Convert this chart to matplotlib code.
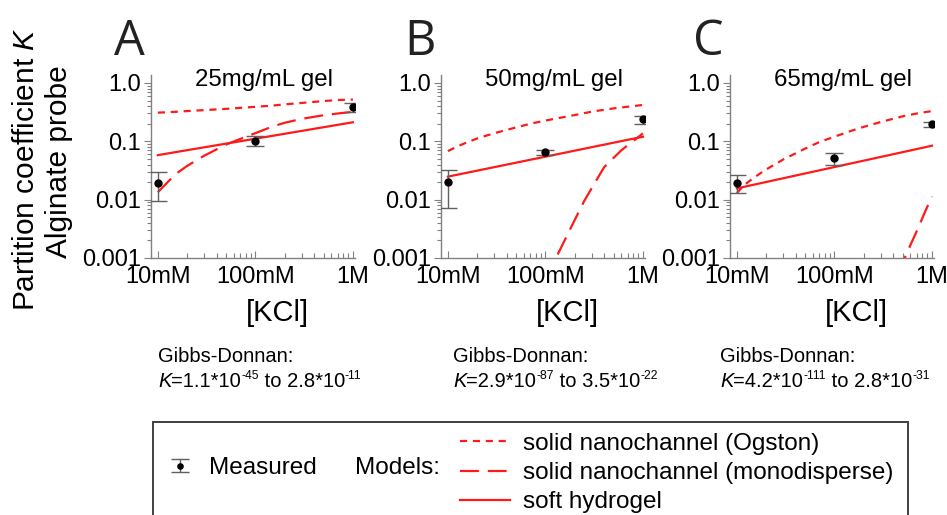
import numpy as np
import matplotlib
matplotlib.use('Agg')
import matplotlib.pyplot as plt
from matplotlib.ticker import FixedLocator, FixedFormatter, NullFormatter
from matplotlib.patches import Rectangle
from matplotlib.container import ErrorbarContainer
from matplotlib.legend_handler import HandlerErrorbar

plt.rcParams['font.family'] = ['Liberation Sans', 'DejaVu Sans']
plt.rcParams['mathtext.fontset'] = 'custom'
plt.rcParams['mathtext.rm'] = 'Liberation Sans'
plt.rcParams['mathtext.it'] = 'Liberation Sans:italic'
plt.rcParams['mathtext.default'] = 'regular'

# ---------------- data ----------------
panel_letters = ['A', 'B', 'C']
panel_titles = ['25mg/mL gel', '50mg/mL gel', '65mg/mL gel']
gd_low_mant = ['1.1', '2.9', '4.2']
gd_low_exp = ['-45', '-87', '-111']
gd_high_mant = ['2.8', '3.5', '2.8']
gd_high_exp = ['-11', '-22', '-31']

xtick_vals = [0.01, 0.1, 1.0]
xtick_labels = ['10mM', '100mM', '1M']
ytick_vals = [0.001, 0.01, 0.1, 1.0]
ytick_labels = ['0.001', '0.01', '0.1', '1.0']

conc_meas = [0.01, 0.1, 1.0]
meas_A = [0.0196, 0.1026, 0.39]
meas_A_lo = [0.0093, 0.083, 0.32]
meas_A_hi = [0.0294, 0.123, 0.46]
meas_B = [0.0204, 0.065, 0.238]
meas_B_lo = [0.0071, 0.058, 0.196]
meas_B_hi = [0.032, 0.072, 0.275]
meas_C = [0.0193, 0.051, 0.195]
meas_C_lo = [0.0132, 0.040, 0.176]
meas_C_hi = [0.026, 0.062, 0.218]

# solid nanochannel (Ogston)
ogston_A_conc = [0.01, 0.015, 0.02, 0.03, 0.05, 0.07, 0.1, 0.15, 0.2, 0.3, 0.5, 0.7, 1.0]
ogston_A = [0.31, 0.32, 0.33, 0.343, 0.36, 0.375, 0.39, 0.41, 0.43, 0.455, 0.49, 0.51, 0.52]
ogston_B_conc = [0.01, 0.013, 0.015, 0.02, 0.03, 0.05, 0.07, 0.1, 0.15, 0.2, 0.3, 0.5, 0.7, 1.0]
ogston_B = [0.068, 0.084, 0.093, 0.112, 0.138, 0.173, 0.2, 0.227, 0.258, 0.282, 0.323,
            0.367, 0.392, 0.42]
ogston_C_conc = [0.01, 0.012, 0.015, 0.02, 0.03, 0.05, 0.07, 0.1, 0.15, 0.2, 0.3, 0.5, 0.7, 1.0]
ogston_C = [0.013, 0.018, 0.024, 0.033, 0.049, 0.075, 0.097, 0.12, 0.152, 0.177, 0.215,
            0.268, 0.30, 0.33]

# solid nanochannel (monodisperse)
mono_A_conc = [0.01, 0.015, 0.02, 0.03, 0.05, 0.07, 0.1, 0.15, 0.2, 0.3, 0.5, 0.7, 1.0]
mono_A = [0.0134, 0.027, 0.038, 0.057, 0.088, 0.11, 0.138, 0.18, 0.208, 0.243, 0.28, 0.30, 0.32]
mono_B_conc = [0.1, 0.15, 0.2, 0.25, 0.3, 0.4, 0.5, 0.6, 0.7, 0.85, 1.0]
mono_B = [0.00043, 0.0017, 0.0045, 0.0095, 0.016, 0.036, 0.052, 0.07, 0.086, 0.11, 0.137]
mono_C_conc = [0.45, 0.5, 0.6, 0.7, 0.85, 1.0]
mono_C = [0.00055, 0.00083, 0.00165, 0.0029, 0.0062, 0.0113]

# soft hydrogel
soft_conc = [0.01, 1.0]
soft_A = [0.058, 0.212]
soft_B = [0.0248, 0.12]
soft_C = [0.0156, 0.084]

panels = [
    dict(meas=meas_A, lo=meas_A_lo, hi=meas_A_hi, ogc=ogston_A_conc, og=ogston_A,
         moc=mono_A_conc, mo=mono_A, soft=soft_A),
    dict(meas=meas_B, lo=meas_B_lo, hi=meas_B_hi, ogc=ogston_B_conc, og=ogston_B,
         moc=mono_B_conc, mo=mono_B, soft=soft_B),
    dict(meas=meas_C, lo=meas_C_lo, hi=meas_C_hi, ogc=ogston_C_conc, og=ogston_C,
         moc=mono_C_conc, mo=mono_C, soft=soft_C),
]

# ---------------- layout ----------------
W, H = 947, 515
fig = plt.figure(figsize=(W / 100, H / 100), dpi=100)
renderer = fig.canvas.get_renderer()

ax_lefts = [151, 441, 730]
ax_w, ax_top, ax_bot = 204, 75, 258
red = '#ff1a1a'
grey = '#808080'
ebc = '#606060'


def rich_line(x_px, y_base_px, parts, fs):
    """Draw a sequence of (text, kind) pieces on one baseline; kind in rm/it/sup."""
    x = x_px
    for s, kind in parts:
        size = fs * 0.6 if kind == 'sup' else fs
        dy = fs * 1.39 * 0.42 if kind == 'sup' else 0
        t = fig.text(x / W, 1 - (y_base_px - dy) / H, s, fontsize=size,
                     style='italic' if kind == 'it' else 'normal',
                     ha='left', va='baseline')
        bb = t.get_window_extent(renderer=renderer)
        x += bb.width


handles = None
for i, p in enumerate(panels):
    ax = fig.add_axes([ax_lefts[i] / W, 1 - ax_bot / H, ax_w / W, (ax_bot - ax_top) / H])
    ax.set_xscale('log')
    ax.set_yscale('log')

    meas = np.array(p['meas'])
    yerr = [meas - np.array(p['lo']), np.array(p['hi']) - meas]
    eb = ax.errorbar(conc_meas, meas, yerr=yerr, fmt='o', color='black', ms=5,
                     ecolor=ebc, elinewidth=1.0, capsize=6.5, capthick=1.0, zorder=4)
    l_og, = ax.plot(p['ogc'], p['og'], color=red, lw=1.6, dashes=(3.2, 2.6))
    l_mo, = ax.plot(p['moc'], p['mo'], color=red, lw=1.6, dashes=(8.5, 4.0))
    l_so, = ax.plot(soft_conc, p['soft'], color=red, lw=1.6)
    if i == 0:
        handles = (eb, l_og, l_mo, l_so)

    ax.set_xlim(0.0085, 1.05)
    ax.set_ylim(0.001, 1.37)
    for s in ['top', 'right']:
        ax.spines[s].set_visible(False)
    for s in ['left', 'bottom']:
        ax.spines[s].set_color(grey)
        ax.spines[s].set_linewidth(1.0)

    ax.xaxis.set_major_locator(FixedLocator(xtick_vals))
    ax.xaxis.set_major_formatter(FixedFormatter(xtick_labels))
    xminor = [m * d for d in (0.01, 0.1) for m in range(2, 10)]
    ax.xaxis.set_minor_locator(FixedLocator(xminor))
    ax.xaxis.set_minor_formatter(NullFormatter())
    ax.yaxis.set_major_locator(FixedLocator(ytick_vals))
    ax.yaxis.set_major_formatter(FixedFormatter(ytick_labels))
    yminor = [m * d for d in (0.001, 0.01, 0.1) for m in range(2, 10)]
    ax.yaxis.set_minor_locator(FixedLocator(yminor))
    ax.yaxis.set_minor_formatter(NullFormatter())

    ax.tick_params(axis='x', which='major', direction='in', length=5, width=0.8,
                   color=grey, labelsize=17, pad=6)
    ax.tick_params(axis='x', which='minor', direction='in', length=3.5, width=0.8, color=grey)
    ax.tick_params(axis='y', which='major', direction='out', length=5, width=0.8,
                   color=grey, labelsize=17, pad=2)
    ax.tick_params(axis='y', which='minor', direction='out', length=3, width=0.8, color=grey)

    ax.text(0.555, 0.94, panel_titles[i], transform=ax.transAxes, ha='center',
            va='baseline', fontsize=17.3)
    ax.text(0.62, -0.30, '[KCl]', transform=ax.transAxes, ha='center', va='center',
            fontsize=21)

    # panel letter
    fig.text((ax_lefts[i] - 37) / W, 1 - 55 / H, panel_letters[i], fontsize=35,
             family=['Open Sans', 'DejaVu Sans'], ha='left', va='baseline', color='#222222')

    # Gibbs-Donnan notes
    gx = [158, 453, 720][i]
    fig.text(gx / W, 1 - 357 / H, 'Gibbs-Donnan:', fontsize=14.5, ha='left', va='center')
    rich_line(gx, 387, [('K', 'it'), ('=' + gd_low_mant[i] + '*10', 'rm'),
                        (gd_low_exp[i], 'sup'),
                        (' to ' + gd_high_mant[i] + '*10', 'rm'),
                        (gd_high_exp[i], 'sup')], 14.5)

# y label
fig.text(26 / W, 1 - 169 / H, r'Partition coefficient $\mathit{K}$', rotation=90,
         ha='center', va='center', fontsize=21.5)
fig.text(59 / W, 1 - 162 / H, 'Alginate probe', rotation=90,
         ha='center', va='center', fontsize=21.5)

# legend frame
fig.add_artist(Rectangle((153 / W, -0.1), (908 - 153) / W, 0.1 + 1 - 422 / H,
                         transform=fig.transFigure, fill=False, edgecolor='#404040', lw=1.4))

eb, l_og, l_mo, l_so = handles
fig.legend([eb], ['Measured'], loc='center left', bbox_to_anchor=(170 / W, 1 - 468 / H),
           frameon=False, fontsize=17.5, borderpad=0, borderaxespad=0,
           handlelength=0.85, handletextpad=0.75, markerscale=0.75,
           handler_map={ErrorbarContainer: HandlerErrorbar(xerr_size=0.3, yerr_size=0.27)})
fig.text(355 / W, 1 - 468 / H, 'Models:', fontsize=17.5, ha='left', va='center')
fig.legend([l_og, l_mo, l_so],
           ['solid nanochannel (Ogston)', 'solid nanochannel (monodisperse)', 'soft hydrogel'],
           loc='center left', bbox_to_anchor=(460 / W, 1 - 473 / H), frameon=False,
           fontsize=17.5, borderpad=0, borderaxespad=0, handlelength=2.05,
           handletextpad=0.55, labelspacing=0.3)

fig.savefig('out.png', dpi=100)
